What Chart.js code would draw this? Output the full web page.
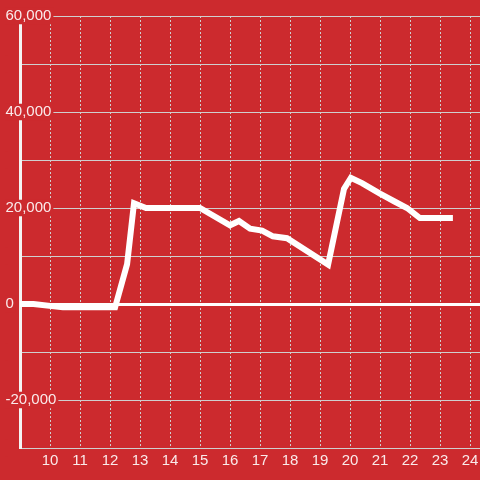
<!DOCTYPE html>
<html>
<head>
<meta charset="utf-8">
<script src="https://cdn.jsdelivr.net/npm/chart.js@4/dist/chart.umd.min.js"></script>
<style>
html,body{margin:0;padding:0;background:#cc2a2e;overflow:hidden}
canvas{display:block}
</style>
</head>
<body>
<canvas id="c" width="480" height="480"></canvas>
<script>
// Series: hour (x) and value (y)
const hours  = [9, 9.45, 10.43, 12.17, 12.57, 12.8, 13.2, 15.0, 16.0, 16.3, 16.67, 17.07, 17.43, 17.9, 19.27, 19.8, 20.03, 20.4, 21.0, 21.5, 21.9, 22.33, 23.43];
const values = [0, 0, -700, -700, 8300, 21000, 20000, 20000, 16400, 17300, 15700, 15300, 14100, 13700, 8200, 24000, 26300, 25200, 23000, 21300, 20000, 17900, 17900];
// Tick labels
const xTickLabels = [10, 11, 12, 13, 14, 15, 16, 17, 18, 19, 20, 21, 22, 23, 24];
const yTickLabels = [60000, 40000, 20000, 0, -20000];

const BG = '#cc2a2e';
const GRID = '#cfcfcf';
const LABEL = 'rgba(255,255,255,0.9)';
const FAMILY = '"Liberation Sans", Arial, sans-serif';

const bgPlugin = {
  id: 'bg',
  beforeDraw(chart) {
    const ctx = chart.ctx;
    ctx.save();
    ctx.fillStyle = BG;
    ctx.fillRect(0, 0, chart.width, chart.height);
    ctx.restore();
  }
};

new Chart(document.getElementById('c'), {
  type: 'line',
  data: {
    datasets: [{
      data: hours.map((h, i) => ({x: h, y: values[i]})),
      borderColor: '#ffffff',
      borderWidth: 6,
      pointRadius: 0,
      tension: 0,
      fill: false
    }]
  },
  options: {
    responsive: false,
    animation: false,
    events: [],
    layout: {padding: {top: 16, left: 20, right: 0, bottom: 0}},
    plugins: {legend: {display: false}, tooltip: {enabled: false}},
    scales: {
      x: {
        type: 'linear',
        min: 9,
        max: 24 + 1/3,
        afterFit: s => { s.height = 32; s.paddingLeft = 0; s.paddingRight = 0; },
        ticks: {
          stepSize: 1,
          includeBounds: false,
          autoSkip: false,
          maxRotation: 0,
          padding: 4,
          color: LABEL,
          font: {family: FAMILY, size: 15, lineHeight: 1.2},
          callback: v => xTickLabels.includes(v) ? String(v) : ''
        },
        grid: {color: GRID, lineWidth: 1, drawTicks: false},
        border: {display: false, dash: [2, 2]}
      },
      y: {
        min: -30000,
        max: 60000,
        afterFit: s => { s.width = 0; },
        ticks: {
          stepSize: 10000,
          mirror: true,
          crossAlign: 'near',
          padding: -14.5,
          color: LABEL,
          font: {family: FAMILY, size: 15, lineHeight: 1.1},
          showLabelBackdrop: true,
          backdropColor: BG,
          backdropPadding: {top: 0, bottom: 0, left: 0, right: 2},
          callback: v => yTickLabels.includes(v) ? v.toLocaleString('en-US') : ''
        },
        grid: {
          drawTicks: false,
          color: c => (c.tick && c.tick.value === 0) ? '#ffffff' : GRID,
          lineWidth: c => (c.tick && c.tick.value === 0) ? 3 : 1
        },
        border: {display: true, color: '#f4f4f4', width: 3}
      }
    }
  },
  plugins: [bgPlugin]
});
</script>
</body>
</html>
